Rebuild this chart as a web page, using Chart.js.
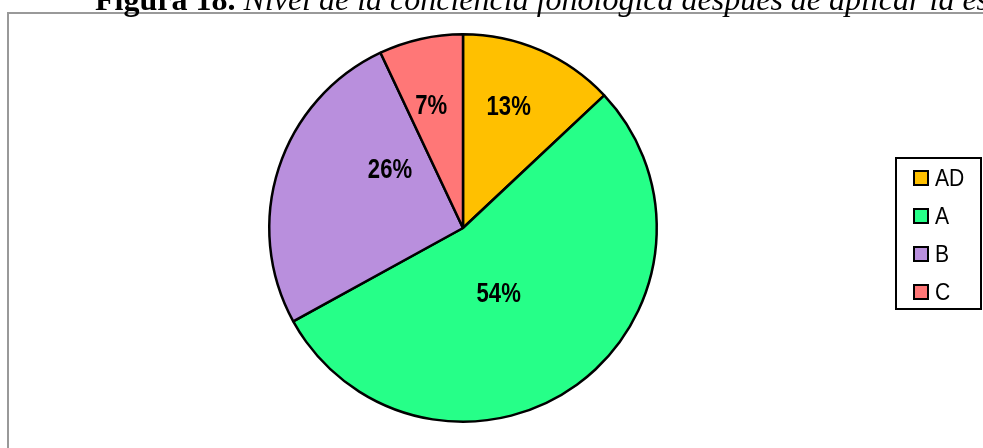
<!DOCTYPE html>
<html><head><meta charset="utf-8">
<script src="https://cdn.jsdelivr.net/npm/chart.js@4.4.1/dist/chart.umd.min.js"></script>
<style>
html,body{margin:0;padding:0;background:#fff;overflow:hidden;}
#wrap{position:relative;width:983px;height:448px;overflow:hidden;}
#title{position:absolute;left:95px;top:-17px;font-family:"Liberation Serif","Times New Roman",serif;font-size:32px;line-height:32px;white-space:nowrap;color:#000;z-index:2;}
canvas{position:absolute;left:0;top:0;}
</style></head><body>
<div id="wrap"><div id="title"><b>Figura 18.</b> <i>Nivel de la conciencia fonológica después de aplicar la estrategia</i></div>
<canvas id="c" width="983" height="448"></canvas></div>
<script>
const categories = ['AD', 'A', 'B', 'C'];
const percentages = [13, 54, 26, 7];
const sliceColors = ['#FFC000', '#26FF88', '#B98FDD', '#FF7777'];

const labelPlacement = [{r:0.673, da:-2.9}, {r:0.385, da:7.4}, {r:0.485, da:21}, {r:0.652, da:-2}];
const sansFont = '"Liberation Sans",Arial,sans-serif';

function condensedText(ctx, text, x, y, sx) {
  ctx.save();
  ctx.translate(x, y);
  ctx.scale(sx, 1);
  ctx.fillText(text, 0, 0);
  ctx.restore();
}

const framePlugin = {
  id: 'frame',
  beforeDraw(chart) {
    const ctx = chart.ctx;
    ctx.save();
    ctx.strokeStyle = '#999999';
    ctx.lineWidth = 2;
    ctx.strokeRect(8, 13, 1200, 800);
    ctx.restore();
  }
};

const labelPlugin = {
  id: 'sliceLabels',
  afterDatasetsDraw(chart) {
    const ctx = chart.ctx;
    const meta = chart.getDatasetMeta(0);
    ctx.save();
    ctx.font = 'bold 28px ' + sansFont;
    ctx.fillStyle = '#000';
    ctx.textAlign = 'center';
    ctx.textBaseline = 'middle';
    meta.data.forEach((arc, i) => {
      const p = arc.getProps(['x', 'y', 'startAngle', 'endAngle', 'outerRadius'], true);
      const pl = labelPlacement[i];
      const a = (p.startAngle + p.endAngle) / 2 + pl.da * Math.PI / 180;
      const r = p.outerRadius * pl.r;
      condensedText(ctx, chart.data.datasets[0].data[i] + '%', p.x + Math.cos(a) * r, p.y + Math.sin(a) * r + 1, 0.79);
    });
    ctx.restore();
  }
};

const legendPlugin = {
  id: 'boxLegend',
  afterDraw(chart) {
    const ctx = chart.ctx;
    const labels = chart.data.labels;
    const colors = chart.data.datasets[0].backgroundColor;
    ctx.save();
    ctx.fillStyle = '#fff';
    ctx.fillRect(895, 157, 86, 152);
    ctx.strokeStyle = '#000';
    ctx.lineWidth = 2;
    ctx.strokeRect(896, 158, 85, 151);
    ctx.font = '24px ' + sansFont;
    ctx.textBaseline = 'middle';
    ctx.textAlign = 'left';
    labels.forEach((lab, i) => {
      const cy = 178 + i * 38;
      ctx.fillStyle = colors[i];
      ctx.fillRect(914, cy - 7, 14, 14);
      ctx.strokeStyle = '#000';
      ctx.lineWidth = 2;
      ctx.strokeRect(914, cy - 7, 14, 14);
      ctx.fillStyle = '#000';
      condensedText(ctx, lab, 935, cy + 1, 0.88);
    });
    ctx.restore();
  }
};

new Chart(document.getElementById('c'), {
  type: 'pie',
  data: {
    labels: categories,
    datasets: [{
      data: percentages,
      backgroundColor: sliceColors,
      borderColor: '#000',
      borderWidth: 2.5
    }]
  },
  options: {
    responsive: false,
    animation: false,
    layout: { padding: { left: 268, right: 325, top: 33, bottom: 25 } },
    plugins: { legend: { display: false }, tooltip: { enabled: false }, title: { display: false } }
  },
  plugins: [framePlugin, labelPlugin, legendPlugin]
});
</script>
</body></html>
